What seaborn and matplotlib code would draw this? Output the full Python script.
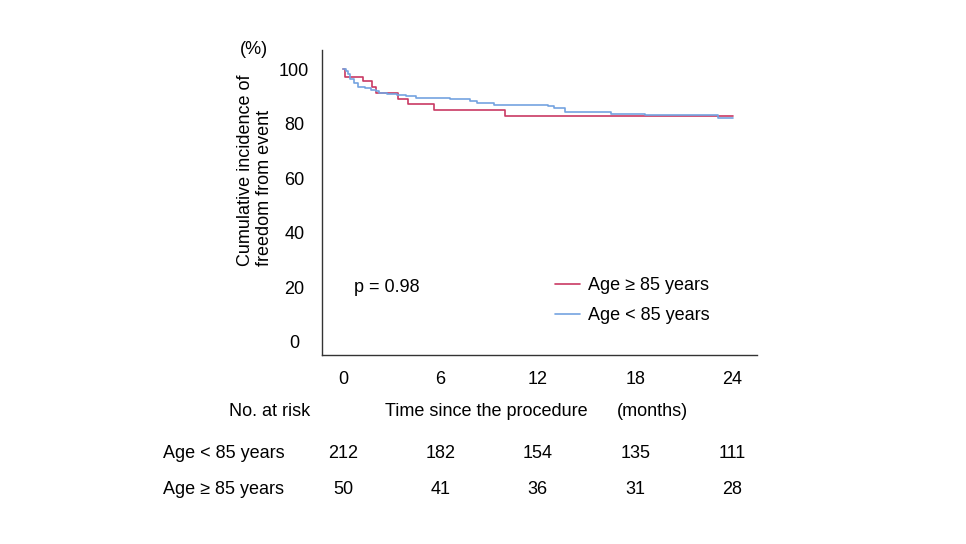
import numpy as np
import pandas as pd
import matplotlib
matplotlib.use("Agg")
import matplotlib.pyplot as plt
import matplotlib.transforms as mtransforms
import seaborn as sns

# Kaplan-Meier steps (months, %)
old_time = [0, 0.1, 1.2, 1.8, 2.0, 3.4, 4.0, 5.6, 10.0, 24.0]
old_surv = [100, 97.3, 95.5, 93.5, 91.3, 89.0, 87.1, 84.9, 82.7, 82.7]

young_time = [0, 0.2, 0.3, 0.45, 0.65, 0.95, 1.35, 1.7, 2.0, 2.2, 2.7, 3.3,
              3.9, 4.5, 6.6, 7.8, 8.25, 9.3, 12.6, 13.0, 13.7, 16.5, 18.6,
              23.1, 24.0]
young_surv = [100, 99.4, 98.2, 96.3, 95.1, 93.6, 93.0, 92.4, 92.0, 91.4, 91.0,
              90.7, 90.1, 89.5, 88.9, 88.4, 87.7, 87.0, 86.4, 85.8, 84.3, 83.6,
              83.1, 82.1, 82.1]

groups = ["Age \u2265 85 years", "Age < 85 years"]
colors = ["#C93A63", "#74A3E0"]

x_ticks = [0, 6, 12, 18, 24]
y_ticks = [0, 20, 40, 60, 80, 100]

risk_young = [212, 182, 154, 135, 111]
risk_old = [50, 41, 36, 31, 28]

df = pd.concat([
    pd.DataFrame({"time": old_time, "surv": old_surv, "group": groups[0]}),
    pd.DataFrame({"time": young_time, "surv": young_surv, "group": groups[1]}),
])

sns.set_style("white")
plt.rcParams["font.family"] = ["Liberation Sans", "DejaVu Sans"]
plt.rcParams["text.color"] = "black"
FS = 13

fig = plt.figure(figsize=(9.66, 5.44), dpi=100)
ax = fig.add_axes([0.3333, 0.3474, 0.4503, 0.5606])

sns.lineplot(data=df, x="time", y="surv", hue="group", hue_order=groups,
             palette=colors, drawstyle="steps-post", linewidth=1.2,
             estimator=None, sort=False, ax=ax)

ax.set_xlim(-1.3, 25.5)
ax.set_ylim(-4.8, 107)
ax.set_xticks(x_ticks)
ax.set_yticks(y_ticks)
ax.tick_params(axis="both", length=0, labelsize=FS, colors="black")
ax.tick_params(axis="x", pad=11.5)
ax.tick_params(axis="y", pad=20)
for lab in ax.get_yticklabels():
    lab.set_horizontalalignment("center")
ax.set_xlabel("")
ax.set_ylabel("")
sns.despine(ax=ax)
for s in ["left", "bottom"]:
    ax.spines[s].set_color("#333333")
    ax.spines[s].set_linewidth(1.0)

leg = ax.legend(loc="upper left", bbox_to_anchor=(0.52, 0.28), frameon=False,
                fontsize=FS, handlelength=1.35, handletextpad=0.45,
                labelspacing=0.75, borderaxespad=0)
for t in leg.get_texts():
    t.set_color("black")

ax.text(0.65, 20, "p = 0.98", fontsize=FS, va="center", ha="left")

fig.text(254 / 966, 1 - 50 / 544, "(%)", fontsize=FS, ha="center", va="center")
fig.text(255 / 966, 1 - 170 / 544, "Cumulative incidence of\nfreedom from event",
         fontsize=FS, rotation=90, ha="center", va="center",
         multialignment="left", linespacing=1.2)

fig.text(270 / 966, 1 - 412 / 544, "No. at risk", fontsize=FS, ha="center", va="center")
fig.text(486 / 966, 1 - 412 / 544, "Time since the procedure", fontsize=FS,
         ha="center", va="center")
fig.text(652 / 966, 1 - 412 / 544, "(months)", fontsize=FS, ha="center", va="center")

trans = mtransforms.blended_transform_factory(ax.transData, fig.transFigure)
rows = [(groups[1], risk_young, 453), (groups[0], risk_old, 489)]
for name, counts, ypix in rows:
    yf = 1 - ypix / 544
    fig.text(163 / 966, yf, name, fontsize=FS, ha="left", va="center")
    for t, n in zip(x_ticks, counts):
        ax.text(t, yf, str(n), fontsize=FS, ha="center", va="center",
                transform=trans, clip_on=False)

fig.savefig("out.png", dpi=100)
